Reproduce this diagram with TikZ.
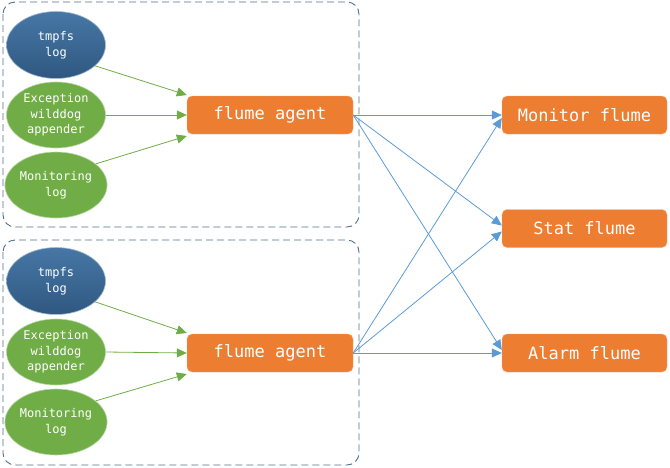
\documentclass[tikz,border=0pt]{standalone}
\usepackage{fontspec}
\setmonofont{DejaVu Sans Mono}
\usetikzlibrary{shapes.geometric,arrows.meta,shadings}
\definecolor{obox}{HTML}{ED7D31}
\definecolor{gell}{HTML}{70AD47}
\definecolor{bellA}{HTML}{4777A6}
\definecolor{bellB}{HTML}{2F5880}
\definecolor{bline}{HTML}{5B9BD5}
\definecolor{gline}{HTML}{70AD47}
\definecolor{grp}{HTML}{4F6F8E}
\tikzset{
  grpbox/.style={draw=grp, dashed, dash pattern=on 7pt off 4pt, line width=0.9pt, rounded corners=12pt},
  agentbox/.style={fill=obox, draw=obox!60!white, rounded corners=5pt, minimum width=166pt, minimum height=38pt, text=white, font=\ttfamily\fontsize{17}{18}\selectfont},
  sinkbox/.style={fill=obox, draw=obox!60!white, rounded corners=5pt, minimum width=165pt, minimum height=38pt, text=white, font=\ttfamily\fontsize{17}{18}\selectfont},
  greenell/.style={ellipse, fill=gell, draw=gell!50!white, line width=0.6pt, minimum width=99pt, minimum height=66pt, inner sep=0pt, text=white, align=center, font=\ttfamily\fontsize{12}{15.5}\selectfont},
  blueell/.style={ellipse, top color=bellA, bottom color=bellB, draw=bellA!50!white, line width=0.6pt, minimum width=99pt, minimum height=67pt, inner sep=0pt, text=white, align=center, font=\ttfamily\fontsize{12}{15.5}\selectfont},
  garr/.style={draw=gline, line width=0.8pt, -{Triangle[length=10pt,width=9pt]}},
  barr/.style={draw=bline, line width=0.8pt, -{Triangle[length=10pt,width=9pt]}},
}
\begin{document}
\begin{tikzpicture}[x=1pt,y=-1pt]
\useasboundingbox (0,0) rectangle (670,467);
% groups
\draw[grpbox] (3,2) rectangle (359,227);
\draw[grpbox] (3,240) rectangle (359,465);
% top group
\node[blueell] (t1) at (56,45) {tmpfs\\log};
\node[greenell] (e1) at (56,115) {Exception\\wilddog\\appender};
\node[greenell] (m1) at (56,185) {Monitoring\\log};
\node[agentbox] (a1) at (270,115) {flume agent};
% bottom group
\node[blueell] (t2) at (56,281) {tmpfs\\log};
\node[greenell] (e2) at (56,352) {Exception\\wilddog\\appender};
\node[greenell] (m2) at (56,422) {Monitoring\\log};
\node[agentbox] (a2) at (270,353) {flume agent};
% sinks
\node[sinkbox] (mon) at (584.5,115) {Monitor flume};
\node[sinkbox] (sta) at (584.5,228.5) {Stat flume};
\node[sinkbox] (ala) at (584.5,353) {Alarm flume};
% green arrows
\draw[garr] (t1.-28) -- ([yshift=20pt]a1.west);
\draw[garr] (e1.east) -- (a1.west);
\draw[garr] (m1.28) -- ([yshift=-21pt]a1.west);
\draw[garr] (t2.-28) -- ([yshift=20pt]a2.west);
\draw[garr] (e2.east) -- (a2.west);
\draw[garr] (m2.28) -- ([yshift=-21pt]a2.west);
% blue arrows
\draw[barr] (a1.east) -- (mon.west);
\draw[barr] (a1.east) -- ([yshift=3pt]sta.west);
\draw[barr] (a1.east) -- ([yshift=3pt]ala.west);
\draw[barr] (a2.east) -- ([yshift=-3pt]mon.west);
\draw[barr] (a2.east) -- ([yshift=-3pt]sta.west);
\draw[barr] (a2.east) -- (ala.west);
\end{tikzpicture}
\end{document}
